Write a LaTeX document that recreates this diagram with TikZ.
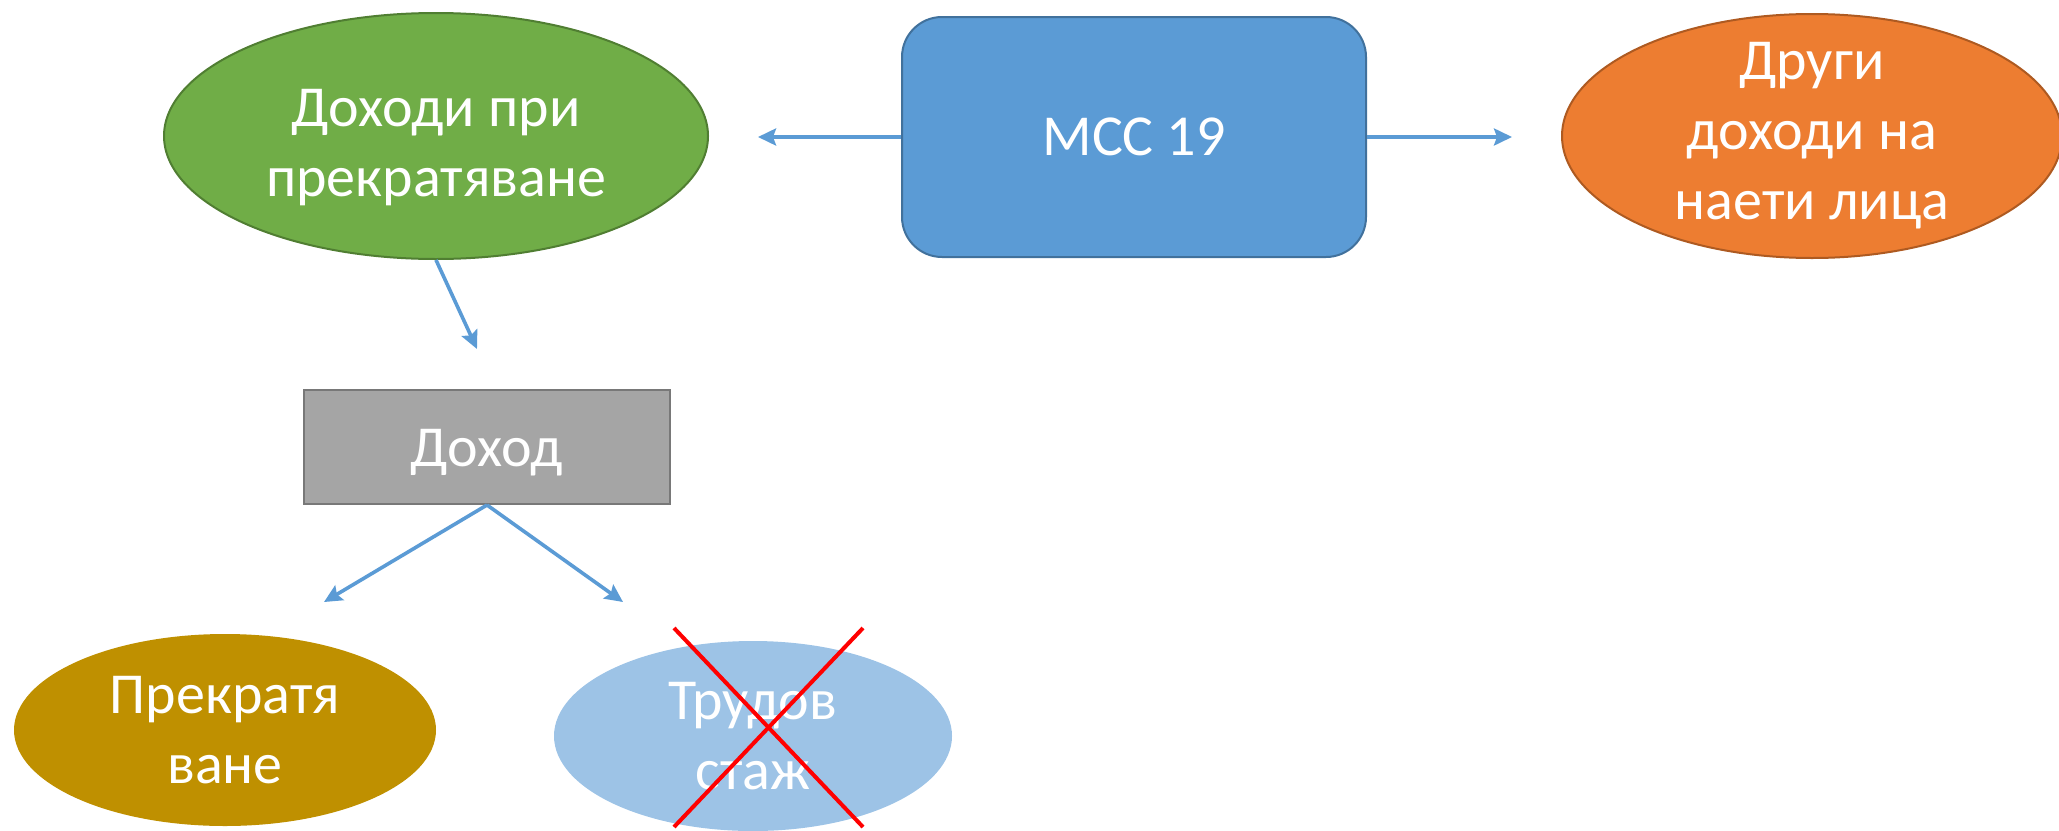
\documentclass[tikz,border=0pt]{standalone}
\usepackage{fontspec}
\setmainfont{Carlito}
\usetikzlibrary{arrows.meta,shapes.geometric}
\definecolor{leafgreen}{HTML}{70AD47}
\definecolor{leafedge}{HTML}{507E32}
\definecolor{skyblue}{HTML}{5B9BD5}
\definecolor{skyedge}{HTML}{41719C}
\definecolor{ember}{HTML}{ED7D31}
\definecolor{emberedge}{HTML}{AE5A21}
\definecolor{stone}{HTML}{A5A5A5}
\definecolor{stoneedge}{HTML}{787878}
\definecolor{ochre}{HTML}{BF9000}
\definecolor{paleblue}{HTML}{9DC3E6}
\tikzset{
  oval/.style={ellipse,inner sep=0pt,align=center,text=white},
  flow/.style={-{Stealth[length=9pt,width=8.5pt,inset=1.5pt]},skyblue,line width=1.8pt}
}

\begin{document}
\begin{tikzpicture}[x=0.5pt,y=-0.5pt,font=\fontsize{29}{35}\selectfont]
  \useasboundingbox (0,0) rectangle (2059,830);

  % Top row
  \node[draw=skyedge,fill=skyblue,line width=1pt,rounded corners=20pt,
        minimum width=232pt,minimum height=120pt,text=white] (ias) at (1134,137)
    {МСС 19};
  \node[oval,draw=leafedge,fill=leafgreen,line width=1pt,
        minimum width=272pt,minimum height=123pt] (termination) at (436,136)
    {\rule{0pt}{30pt}Доходи при\\прекратяване};
  \node[oval,draw=emberedge,fill=ember,line width=1pt,inner ysep=-14pt,
        minimum width=250pt,minimum height=122pt] (otherpay) at (1812,136)
    {Други\\доходи на\\наети лица};

  \coordinate (tipleft) at (758,137);
  \coordinate (tipright) at (1512,137);
  \draw[flow] (ias.west) -- (tipleft);
  \draw[flow] (ias.east) -- (tipright);

  % Middle
  \node[draw=stoneedge,fill=stone,line width=1pt,text=white,
        minimum width=183pt,minimum height=57pt] (income) at (487,447)
    {\rule{0pt}{24pt}Доход};
  \coordinate (tipdown) at (477,349);
  \draw[flow] (termination.south) -- (tipdown);

  % Bottom row
  \node[oval,fill=ochre,minimum width=211pt,minimum height=96pt] (ending)
    at (225,730) {Прекратя\\ване};
  \node[oval,fill=paleblue,minimum width=199pt,minimum height=95pt] (service)
    at (753,736) {Трудов\\стаж};

  \coordinate (tipgold) at (324,602);
  \coordinate (tipblue) at (623,602);
  \draw[flow] (income.south) -- (tipgold);
  \draw[flow] (income.south) -- (tipblue);

  % Crossed out
  \draw[red,line width=2pt] (674,628) -- (863,827);
  \draw[red,line width=2pt] (863,628) -- (674,827);
\end{tikzpicture}
\end{document}
